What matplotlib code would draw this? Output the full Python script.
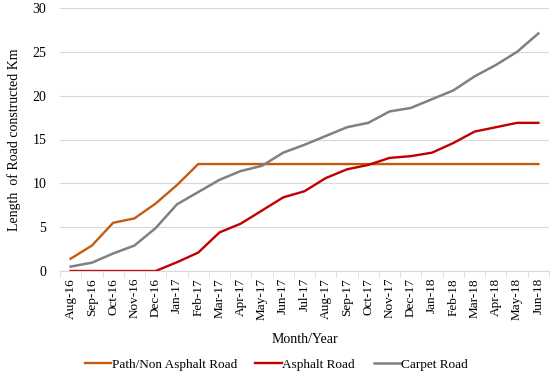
import numpy as np
import matplotlib
matplotlib.use('Agg')
import matplotlib.pyplot as plt

plt.rcParams['font.family'] = ['Liberation Serif', 'DejaVu Serif']

months = ['Aug-16', 'Sep-16', 'Oct-16', 'Nov-16', 'Dec-16', 'Jan-17', 'Feb-17', 'Mar-17',
          'Apr-17', 'May-17', 'Jun-17', 'Jul-17', 'Aug-17', 'Sep-17', 'Oct-17', 'Nov-17',
          'Dec-17', 'Jan-18', 'Feb-18', 'Mar-18', 'Apr-18', 'May-18', 'Jun-18']
path_road = [1.4, 2.9, 5.5, 6.0, 7.7, 9.8, 12.2, 12.2, 12.2, 12.2, 12.2, 12.2,
             12.2, 12.2, 12.2, 12.2, 12.2, 12.2, 12.2, 12.2, 12.2, 12.2, 12.2]
asphalt_road = [0, 0, 0, 0, 0, 1.0, 2.1, 4.4, 5.4, 6.9, 8.4, 9.1,
                10.6, 11.6, 12.1, 12.9, 13.1, 13.5, 14.6, 15.9, 16.4, 16.9, 16.9]
carpet_road = [0.5, 0.95, 2.0, 2.9, 4.9, 7.6, 9.0, 10.4, 11.4, 12.0, 13.5, 14.4,
               15.4, 16.4, 16.9, 18.2, 18.6, 19.6, 20.6, 22.2, 23.5, 25.0, 27.1]

fig = plt.figure(figsize=(5.52, 3.77), dpi=100)
ax = fig.add_axes([60 / 552, 1 - 271 / 377, 489 / 552, 263 / 377])

x = np.arange(len(months))
ax.plot(x, path_road, color='#C55A11', lw=1.7, label='Path/Non Asphalt Road')
ax.plot(x, asphalt_road, color='#C00000', lw=1.7, label='Asphalt Road')
ax.plot(x, carpet_road, color='#808080', lw=1.8, label='Carpet Road')

ax.set_xlim(-0.5, len(months) - 0.5)
ax.set_ylim(0, 30)
ax.set_yticks(range(0, 31, 5))
ax.grid(axis='y', color='#D9D9D9', lw=0.8)
ax.set_axisbelow(True)

ax.set_xticks(x)
ax.set_xticklabels(months, rotation=90, fontsize=9.5)
ax.set_xticks(np.arange(-0.5, len(months), 1), minor=True)
ax.tick_params(axis='x', which='major', length=0, pad=5)
ax.tick_params(axis='x', which='minor', length=4, color='#D9D9D9')
ax.tick_params(axis='y', length=0, labelsize=10, pad=10)

for s in ['top', 'right', 'left']:
    ax.spines[s].set_visible(False)
ax.spines['bottom'].set_color('#D9D9D9')

ax.set_xlabel('Month/Year', fontsize=10, labelpad=9)
ax.set_ylabel('Length  of Road constructed Km', fontsize=10, labelpad=8)

fig.legend(loc='lower center', bbox_to_anchor=(0.5, -0.015), ncol=3, frameon=False,
           fontsize=9.5, handlelength=2.0, columnspacing=1.4, handletextpad=0.05)

fig.savefig('out.png', dpi=100)
